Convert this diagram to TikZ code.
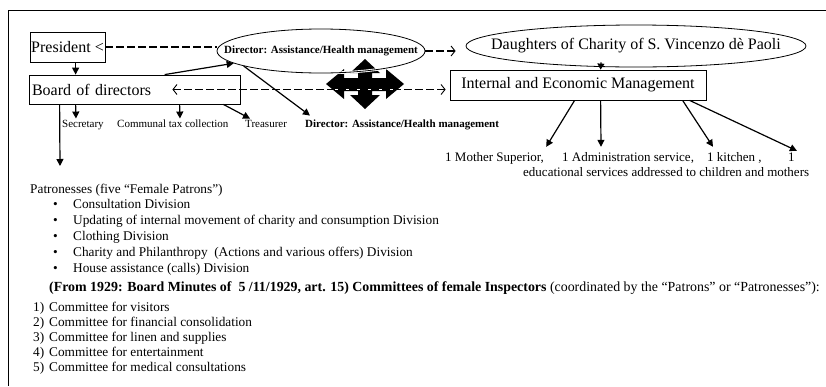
\documentclass[tikz,border=0pt]{standalone}
\usepackage{fontspec}
\setmainfont{Liberation Serif}
\usetikzlibrary{arrows.meta,shapes.geometric,calc}
\tikzset{
  boxnode/.style={draw,line width=0.8pt,inner sep=0pt,font=\fontsize{16}{18}\selectfont},
  ellnode/.style={draw,ellipse,line width=0.8pt,inner sep=0pt},
  arr/.style={line width=1.2pt,-{Triangle[length=7pt,width=7pt]}},
  dsh/.style={line width=1.5pt,dash pattern=on 8pt off 3pt},
  smalltxt/.style={font=\fontsize{11}{13}\selectfont,inner sep=0pt,anchor=west,text height=8pt,text depth=2.5pt},
  midtxt/.style={font=\fontsize{13}{15}\selectfont,inner sep=0pt,anchor=west,text height=9pt,text depth=3pt},
  listtxt/.style={font=\fontsize{13.3}{15}\selectfont,inner sep=0pt,anchor=west,text height=9pt,text depth=3pt},
}
\begin{document}
\begin{tikzpicture}[x=1pt,y=-1pt,>={Straight Barb[length=4pt,width=10pt,line width=0.9pt]}]
\useasboundingbox (0,0) rectangle (826,386);
% frame
\draw[line width=1pt] (826,10) -- (8,10) -- (8,386);

% nodes
\node[boxnode,minimum width=75pt,minimum height=30pt] (pres) at (67.5,47) {President <};
\node[boxnode,minimum width=211pt,minimum height=29pt,text width=205pt,align=left] (board) at (134.5,89.5) {Board of directors};
\node[ellnode,minimum width=208pt,minimum height=44pt,font=\bfseries\fontsize{11}{13}\selectfont] (dir1) at (321,51) {\makebox[0pt]{Director: Assistance/Health management}};
\node[ellnode,minimum width=340pt,minimum height=42pt,font=\fontsize{16}{18}\selectfont] (dau) at (636,46) {\makebox[0pt]{Daughters of Charity of S. Vincenzo dè Paoli}};
\node[boxnode,minimum width=256pt,minimum height=30pt] (int) at (578,85) {Internal and Economic Management};

% small texts under board
\node[smalltxt] (sec) at (62,125) {Secretary};
\node[smalltxt] (tax) at (117,125) {Communal tax collection};
\node[smalltxt] (treas) at (245,125) {Treasurer};
\node[smalltxt,font=\bfseries\fontsize{11}{13}\selectfont] (dir2) at (305,125) {Director: Assistance/Health management};

% staff texts
\node[midtxt] (ms) at (445,158) {1 Mother Superior,};
\node[midtxt] (adm) at (562,158) {1 Administration service,};
\node[midtxt] (kit) at (707,158) {1 kitchen ,};
\node[midtxt] (one) at (788,158) {1};
\node[midtxt] (edu) at (523,173) {educational services addressed to children and mothers};

% lists
\node[listtxt] (patr) at (30,190) {Patronesses (five “Female Patrons”)};
\node[listtxt] (b1) at (53,205) {\makebox[20pt][l]{•}Consultation Division};
\node[listtxt] (b2) at (53,221) {\makebox[20pt][l]{•}Updating of internal movement of charity and consumption Division};
\node[listtxt] (b3) at (53,237) {\makebox[20pt][l]{•}Clothing Division};
\node[listtxt] (b4) at (53,253) {\makebox[20pt][l]{•}Charity and Philanthropy\ \ (Actions and various offers) Division};
\node[listtxt] (b5) at (53,269) {\makebox[20pt][l]{•}House assistance (calls) Division};
\node[listtxt,font=\fontsize{13.9}{16}\selectfont] (from) at (49,288) {\textbf{(From 1929: Board Minutes of \ 5 /11/1929, art. 15) Committees of female Inspectors} (coordinated by the “Patrons” or “Patronesses”):};
\node[listtxt] (c1) at (33,308) {\makebox[16pt][l]{1)}Committee for visitors};
\node[listtxt] (c2) at (33,323) {\makebox[16pt][l]{2)}Committee for financial consolidation};
\node[listtxt] (c3) at (33,338) {\makebox[16pt][l]{3)}Committee for linen and supplies};
\node[listtxt] (c4) at (33,353) {\makebox[16pt][l]{4)}Committee for entertainment};
\node[listtxt] (c5) at (33,368) {\makebox[16pt][l]{5)}Committee for medical consultations};

% big four-way arrow
\fill (365,59) -- (380,73) -- (372,73) -- (372,78) -- (386,78) -- (386,69) -- (404,84) -- (386,99) -- (386,91)
  -- (372,91) -- (372,95) -- (380,95) -- (365,109) -- (350,95) -- (358,95) -- (358,91) -- (344,91) -- (344,99)
  -- (326,84) -- (344,69) -- (344,78) -- (358,78) -- (358,73) -- (350,73) -- cycle;
\begin{scope}
  \clip (325,58) rectangle (405,110);
  \draw[white,line width=2.6pt] (321,51) ellipse [x radius=104,y radius=22];
  \draw[line width=0.8pt] (321,51) ellipse [x radius=104,y radius=22];
  \draw[white,line width=1.5pt] (300,89.5) -- (420,89.5);
\end{scope}

% connectors
\draw[dsh] (pres.east) -- (pres.east -| dir1.west);
\draw[dsh,->,shorten >=10pt] (dir1.east) -- (dir1.east -| dau.west);
\draw[dsh,<->,shorten >=4pt] ($(board.east)+(-68,0)$) -- (board.east -| int.west);
\draw[arr] ($(pres.south west)+(46,0)$) -- ($(board.north west)+(47,0)$);
\draw[arr] ($(board.north west)+(136,0)$) -- (dir1.188);
\draw[arr] (dir1.191) -- ($(dir2.north west)+(5,-4)$);
\draw[arr] ($(board.south west)+(47,0)$) -- ($(sec.north west)+(14,-1)$);
\draw[arr] ($(board.south west)+(151,0)$) -- ($(tax.north west)+(63,-1)$);
\draw[arr] ($(board.south east)+(-17,0)$) -- ($(treas.north west)+(5,-1)$);
\coordinate (ptip) at (60,166);
\draw[arr] ($(board.south west)+(31,0)$) -- (ptip);
\draw[arr,-{Triangle[length=6pt,width=7pt]}] ($(dau.south)+(-35,-5)$) -- ($(int.north west)+(151,0)$);
\draw[arr] ($(int.south west)+(125,0)$) -- ($(ms.north east)+(2,-5)$);
\draw[arr] ($(int.south west)+(151,0)$) -- ($(adm.north west)+(39,-5)$);
\draw[arr] ($(int.south west)+(233,0)$) -- ($(kit.north west)+(6,-5)$);
\draw[arr] ($(int.south west)+(240,0)$) -- ($(one.north east)+(2,-1)$);
\end{tikzpicture}
\end{document}
